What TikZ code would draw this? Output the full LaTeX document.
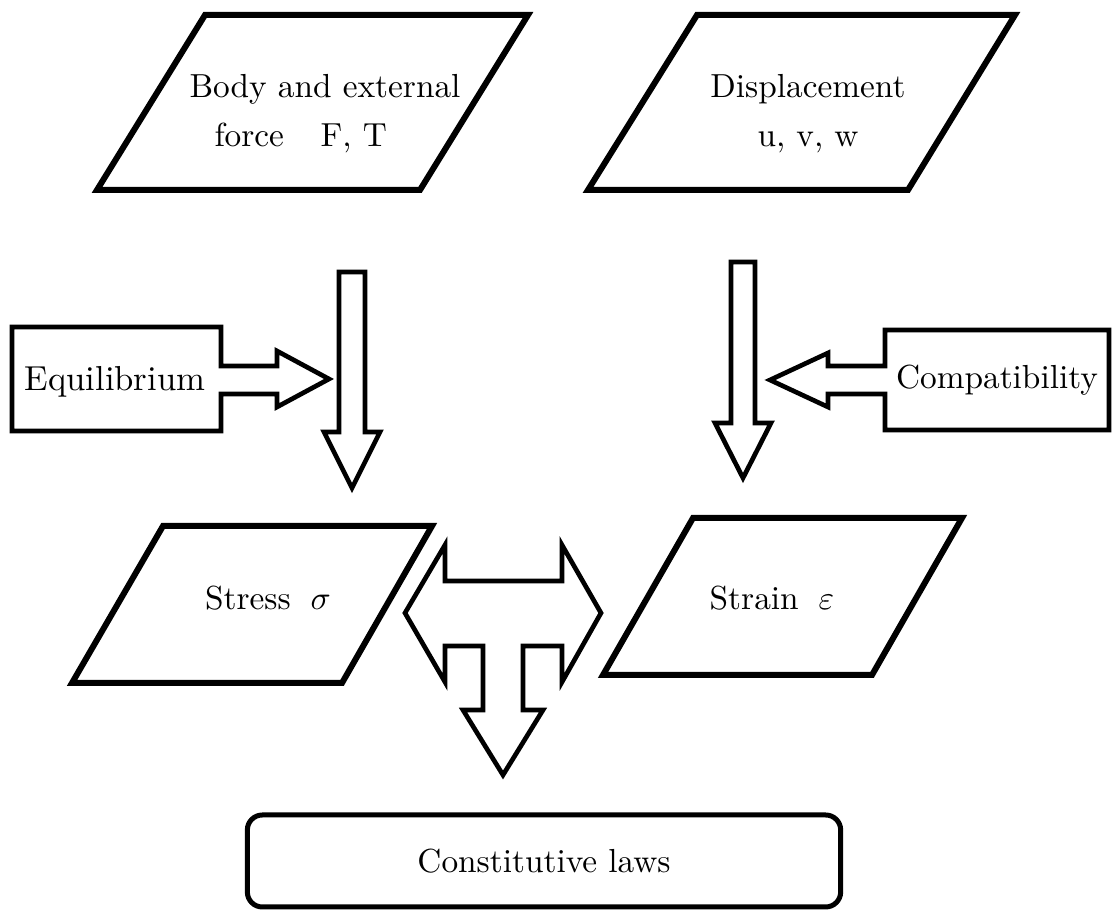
\documentclass[tikz,border=0pt]{standalone}

\tikzset{
  para/.style={line width=1.8pt, line join=miter},
  fat/.style={line width=1.4pt, line join=miter},
  lbl/.style={inner sep=0pt, anchor=base},
}

\begin{document}
\begin{tikzpicture}[x=0.3pt,y=-0.3pt]
\useasboundingbox (0,0) rectangle (1112,910);

% the four parallelograms
\draw[para] (205,15) -- (528,15) -- (420,190) -- (97,190) -- cycle;
\draw[para] (697,15) -- (1015,15) -- (908,190) -- (588,190) -- cycle;
\draw[para] (163,526) -- (432,526) -- (342,683) -- (72,683) -- cycle;
\draw[para] (693,518) -- (962,518) -- (872,675) -- (603,675) -- cycle;

\node[lbl, align=left, font=\fontsize{10}{14.7}\selectfont] (body) at (325,147) {Body and external\\\hspace{0.75em}force\hspace{1.1em}F, T};
\node[lbl, align=center, font=\fontsize{10}{14.7}\selectfont] (disp) at (808,147) {Displacement\\u, v, w};
\node[lbl] (stress) at (268,610) {Stress\hspace{0.6em}$\sigma$};
\node[lbl] (strain) at (772,610) {Strain\hspace{0.6em}$\varepsilon$};

% boxes with their arrows
\draw[fat] (12,327) -- (221,327) -- (221,366) -- (277,366) -- (277,351) -- (329,379)
  -- (277,407) -- (277,394) -- (221,394) -- (221,431) -- (12,431) -- cycle;
\node[lbl, font=\fontsize{10.4}{12}\selectfont] (equil) at (115,391) {Equilibrium};

\draw[fat] (1109,330) -- (885,330) -- (885,366) -- (828,366) -- (828,353) -- (770,380)
  -- (828,407) -- (828,394) -- (885,394) -- (885,430) -- (1109,430) -- cycle;
\node[lbl] (compat) at (997,389) {Compatibility};

% down arrows
\draw[fat] (339,272) -- (365,272) -- (365,432) -- (380,432) -- (352,488) -- (324,432) -- (339,432) -- cycle;
\draw[fat] (731,262) -- (755,262) -- (755,423) -- (771,423) -- (743,478) -- (715,423) -- (731,423) -- cycle;

% the T arrow
\draw[fat] (405,613) -- (445,545) -- (445,581) -- (562,581) -- (562,545) -- (601,613)
  -- (562,682) -- (562,646) -- (523,646) -- (523,710) -- (543,710) -- (503,775)
  -- (463,710) -- (483,710) -- (483,646) -- (445,646) -- (445,682) -- cycle;

\node[draw, line width=1.5pt, rounded corners=4.5pt, minimum width=178pt, minimum height=27.6pt] (laws) at (544,861) {Constitutive laws};
\end{tikzpicture}
\end{document}
